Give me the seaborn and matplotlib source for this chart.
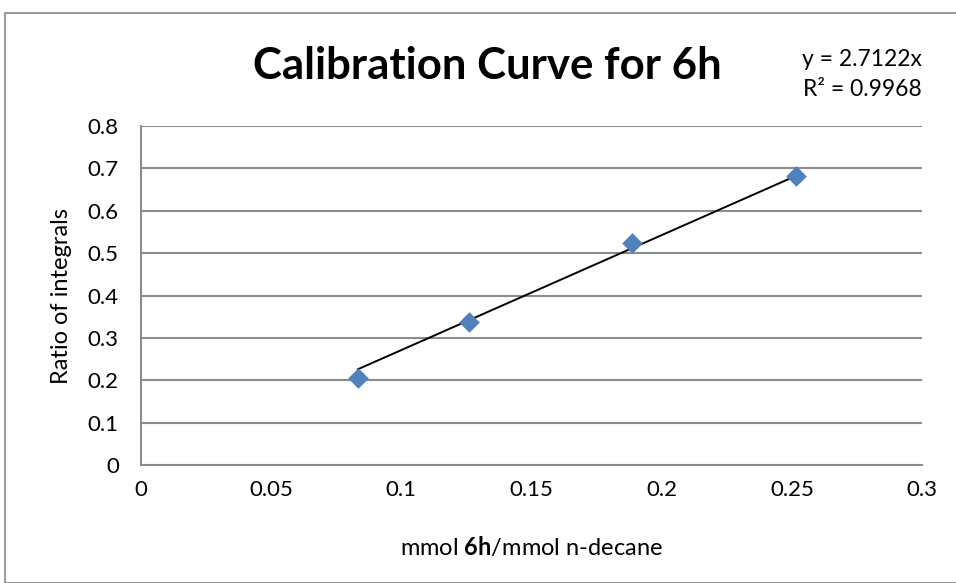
import matplotlib
matplotlib.use("Agg")
import matplotlib.pyplot as plt
import seaborn as sns
import pandas as pd
import numpy as np

# Calibration data: mmol 6h / mmol n-decane vs. ratio of integrals
conc = [0.0832, 0.1260, 0.1887, 0.2516]
ratio = [0.206, 0.338, 0.523, 0.682]
slope = 2.7122
r_squared = 0.9968
x_ticks = [0, 0.05, 0.1, 0.15, 0.2, 0.25, 0.3]
y_ticks = [0, 0.1, 0.2, 0.3, 0.4, 0.5, 0.6, 0.7, 0.8]

sns.set_theme(style="white")
plt.rcParams["font.family"] = ["Lato", "DejaVu Sans"]
plt.rcParams["mathtext.fontset"] = "custom"
plt.rcParams["mathtext.rm"] = "Lato"
plt.rcParams["mathtext.bf"] = "Lato:bold"
plt.rcParams["text.color"] = "black"
plt.rcParams["axes.labelcolor"] = "black"

fig = plt.figure(figsize=(9.56, 5.83), dpi=100)
fig.patch.set_facecolor("white")

# outer chart frame
frame = plt.Rectangle((5 / 956, 0), 1, 1 - 13 / 583, transform=fig.transFigure,
                      fill=False, edgecolor="#888888", linewidth=1.2)
fig.patches.append(frame)

ax = fig.add_axes([141 / 956, 118 / 583, 781 / 956, 339 / 583])

df = pd.DataFrame({"conc": conc, "ratio": ratio})
fit_x = np.array([min(conc), max(conc)])
fit = pd.DataFrame({"x": fit_x, "y": slope * fit_x})

sns.lineplot(data=fit, x="x", y="y", ax=ax, color="black", linewidth=1.4, zorder=3)
sns.scatterplot(data=df, x="conc", y="ratio", ax=ax, marker="D", s=110,
                color="#4F81BD", edgecolor="#4F81BD", linewidth=0, zorder=4)

ax.set_xlim(0, 0.3)
ax.set_ylim(0, 0.8)
ax.set_xticks(x_ticks)
ax.set_yticks(y_ticks)
ax.set_xticklabels([f"{t:g}" for t in x_ticks])
ax.set_yticklabels([f"{t:g}" for t in y_ticks])
ax.tick_params(axis="both", which="major", labelsize=16, labelcolor="black",
               length=6, width=1.2, direction="out")
ax.tick_params(axis="x", color="#888888", pad=5)
ax.tick_params(axis="y", color="#888888", pad=10)
ax.yaxis.grid(True, color="#8c8c8c", linewidth=1.5)
ax.xaxis.grid(False)
for side in ["top", "right"]:
    ax.spines[side].set_visible(False)
for side in ["left", "bottom"]:
    ax.spines[side].set_color("#888888")
    ax.spines[side].set_linewidth(1.4)
ax.set_axisbelow(True)

ax.set_xlabel(r"mmol $\mathbf{6h}$/mmol n-decane", fontsize=17, color="black")
ax.set_ylabel("Ratio of integrals", fontsize=17, color="black")
ax.xaxis.set_label_coords(0.4994, -0.206)
ax.yaxis.set_label_coords(-0.088, 0.5)

fig.text(487 / 956, 1 - 66 / 583, "Calibration Curve for 6h", ha="center", va="center",
         fontsize=31.5, fontweight="bold", color="black")
fig.text(922 / 956, 1 - 60 / 583, f"y = {slope}x", ha="right", va="center",
         fontsize=16.5, color="black")
fig.text(922 / 956, 1 - 90 / 583, f"R² = {r_squared}", ha="right", va="center",
         fontsize=16.5, color="black")

fig.savefig("out.png", dpi=100, facecolor="white")
